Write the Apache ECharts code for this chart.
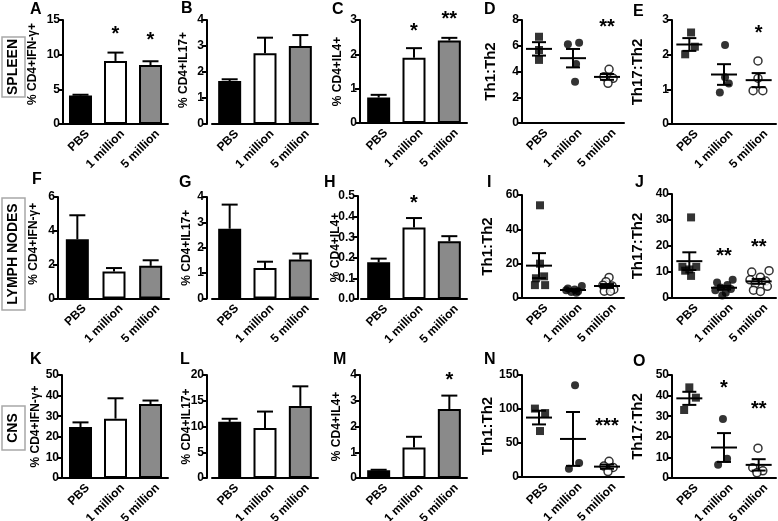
<!DOCTYPE html>
<html><head><meta charset="utf-8">
<script src="https://cdn.jsdelivr.net/npm/echarts@6/dist/echarts.min.js"></script>
<style>html,body{margin:0;padding:0;background:#fff}#c{width:778px;height:521px}</style>
</head><body><div id="c"></div>
<script>
const categories = ['PBS', '1 million', '5 million'];

// ---- tick values per panel ----
const ticksA = [0, 5, 10, 15], ticksB = [0, 1, 2, 3, 4], ticksC = [0, 1, 2, 3], ticksD = [0, 2, 4, 6, 8], ticksE = [0, 1, 2, 3];
const ticksF = [0, 2, 4, 6], ticksG = [0, 1, 2, 3, 4], ticksH = [0, 0.1, 0.2, 0.3, 0.4, 0.5], ticksI = [0, 20, 40, 60], ticksJ = [0, 10, 20, 30, 40];
const ticksK = [0, 10, 20, 30, 40, 50], ticksL = [0, 5, 10, 15, 20], ticksM = [0, 1, 2, 3, 4], ticksN = [0, 50, 100, 150], ticksO = [0, 10, 20, 30, 40, 50];

// ---- bar panels: means and upper errors ----
const meanA = [4.1, 9.1, 8.5],    errA = [0.12, 1.2, 0.55];
const meanB = [1.65, 2.72, 3.0],  errB = [0.07, 0.6, 0.42];
const meanC = [0.74, 1.9, 2.4],   errC = [0.08, 0.28, 0.08];
const meanF = [3.5, 1.6, 1.93],   errF = [1.42, 0.2, 0.33];
const meanG = [2.75, 1.2, 1.54],  errG = [0.95, 0.25, 0.23];
const meanH = [0.178, 0.347, 0.28], errH = [0.018, 0.046, 0.025];
const meanK = [24.7, 28.8, 35.9], errK = [2.3, 9.9, 1.7];
const meanL = [10.9, 9.7, 14.0],  errL = [0.6, 3.2, 3.8];
const meanM = [0.3, 1.18, 2.68],  errM = [0.02, 0.42, 0.52];

// ---- scatter panels: individual points per group, and horizontal jitter (category units) ----
const ptsD = [[6.7, 5.67, 4.9], [6.11, 6.24, 4.58, 3.21], [4.17, 3.6, 3.47, 3.08]];
const jitD = [[0, 0, 0], [-0.15, 0.18, 0.09, 0.06], [0.06, -0.09, 0.18, 0.03]];
const ptsE = [[2.64, 2.23, 2.01], [2.28, 1.35, 1.17, 0.91], [1.82, 1.32, 0.96, 0.96]];
const jitE = [[0.05, 0.16, -0.12], [0.03, 0.03, 0.14, -0.12], [-0.02, -0.02, -0.16, 0.12]];
const ptsI = [[54, 20, 12.6, 11.5, 7.5, 7.5], [7, 5.5, 5, 4.5, 4, 3.5, 3], [12, 9.5, 7.5, 7, 5, 4, 4]];
const jitI = [[0.03, 0.03, 0.15, -0.09, -0.12, 0.18], [0.26, -0.15, 0.05, -0.2, 0.15, -0.05, 0.1], [0.06, -0.03, -0.12, 0.15, 0.2, -0.08, 0.1]];
const ptsJ = [[31, 12, 12, 11, 10.5, 8.5], [7, 6, 5, 4, 3.5, 3, 2, 1], [10.5, 10, 8, 7, 6.5, 5.5, 4.5, 3, 2.5]];
const jitJ = [[0.05, -0.2, 0.2, 0, -0.12, 0.05], [0.25, -0.2, 0.1, -0.1, 0.2, -0.25, 0.05, -0.05], [0.3, -0.2, 0.05, -0.25, 0.2, -0.1, 0.25, -0.15, 0.05]];
const ptsN = [[100.6, 94, 67.6], [135, 12.3, 20.6], [23, 16, 14, 8]];
const jitN = [[-0.12, 0.18, 0.03], [0.06, -0.12, 0.18], [0.06, -0.09, 0.18, 0.03]];
const ptsO = [[44, 39, 33], [28.7, 9.3, 6.4], [14.5, 5, 3.5, 2.5]];
const jitO = [[0, 0.19, -0.15], [-0.03, 0.09, -0.17], [-0.02, -0.17, 0.12, -0.05]];

// ---- significance stars: [category index, value, text] ----
const starsA = [[1, 13.6, '*'], [2, 12.8, '*']];
const starsC = [[1, 2.8, '*'], [2, 3.15, '**']];
const starsD = [[2, 7.8, '**']];
const starsE = [[2, 2.76, '*']];
const starsH = [[1, 0.49, '*']];
const starsJ = [[1, 17.9, '**'], [2, 21.5, '**']];
const starsM = [[2, 4.0, '*']];
const starsN = [[2, 81, '***']];
const starsO = [[1, 46, '*'], [2, 35.5, '**']];

const yIFN = '% CD4+IFN-\u03b3+', yIL17 = '% CD4+IL17+', yIL4 = '% CD4+IL4+', yTh1 = 'Th1:Th2', yTh17 = 'Th17:Th2';

// ---- layout (pixels) ----
const layout = {
  A: {left: 63, axis: 63, width: 105, top: 20, zero: 124, gap: 24, lx: 30, ly: 2, up: 8},
  B: {left: 212, axis: 207, width: 106, top: 20, zero: 124, gap: 17, lx: 181, ly: 1, up: 2},
  C: {left: 361, axis: 360, width: 106, top: 20, zero: 123, gap: 16, lx: 332, ly: 2, up: 0},
  D: {left: 522, axis: 522, width: 102, top: 20, zero: 123, gap: 24, lx: 484, ly: 2, up: 0},
  E: {left: 672, axis: 672, width: 104, top: 20, zero: 124, gap: 27, lx: 633, ly: 4, up: 0},
  F: {left: 59, axis: 58, width: 110, top: 197, zero: 298.5, gap: 18, lx: 32, ly: 172, up: 4},
  G: {left: 212, axis: 207, width: 106, top: 197, zero: 298.5, gap: 14, lx: 179, ly: 175, up: 0},
  H: {left: 361, axis: 358, width: 106, top: 196, zero: 299, gap: 16, lx: 324, ly: 175, up: 0},
  I: {left: 522, axis: 522, width: 102, top: 195, zero: 298, gap: 27, lx: 487, ly: 175, up: 0},
  J: {left: 672, axis: 672, width: 104, top: 194, zero: 298, gap: 27, lx: 635, ly: 175, up: 0},
  K: {left: 63, axis: 62, width: 105, top: 375, zero: 478, gap: 20, lx: 30, ly: 352, up: 0},
  L: {left: 212, axis: 207, width: 106, top: 375, zero: 478, gap: 14, lx: 180, ly: 352, up: 0},
  M: {left: 361, axis: 360, width: 106, top: 375, zero: 478, gap: 17, lx: 333, ly: 352, up: 0},
  N: {left: 522, axis: 522, width: 102, top: 375, zero: 477, gap: 27, lx: 484, ly: 352, up: 0},
  O: {left: 672, axis: 672, width: 104, top: 375, zero: 478, gap: 27, lx: 633, ly: 354, up: 0}
};

const panels = [
  {id: 'A', kind: 'bar', mean: meanA, err: errA, ticks: ticksA, stars: starsA, yName: yIFN},
  {id: 'B', kind: 'bar', mean: meanB, err: errB, ticks: ticksB, stars: [], yName: yIL17},
  {id: 'C', kind: 'bar', mean: meanC, err: errC, ticks: ticksC, stars: starsC, yName: yIL4},
  {id: 'D', kind: 'dot', pts: ptsD, jit: jitD, ticks: ticksD, stars: starsD, yName: yTh1},
  {id: 'E', kind: 'dot', pts: ptsE, jit: jitE, ticks: ticksE, stars: starsE, yName: yTh17},
  {id: 'F', kind: 'bar', mean: meanF, err: errF, ticks: ticksF, stars: [], yName: yIFN},
  {id: 'G', kind: 'bar', mean: meanG, err: errG, ticks: ticksG, stars: [], yName: yIL17},
  {id: 'H', kind: 'bar', mean: meanH, err: errH, ticks: ticksH, stars: starsH, yName: yIL4, dec: 1},
  {id: 'I', kind: 'dot', pts: ptsI, jit: jitI, ticks: ticksI, stars: [], yName: yTh1},
  {id: 'J', kind: 'dot', pts: ptsJ, jit: jitJ, ticks: ticksJ, stars: starsJ, yName: yTh17},
  {id: 'K', kind: 'bar', mean: meanK, err: errK, ticks: ticksK, stars: [], yName: yIFN},
  {id: 'L', kind: 'bar', mean: meanL, err: errL, ticks: ticksL, stars: [], yName: yIL17},
  {id: 'M', kind: 'bar', mean: meanM, err: errM, ticks: ticksM, stars: starsM, yName: yIL4},
  {id: 'N', kind: 'dot', pts: ptsN, jit: jitN, ticks: ticksN, stars: starsN, yName: yTh1},
  {id: 'O', kind: 'dot', pts: ptsO, jit: jitO, ticks: ticksO, stars: starsO, yName: yTh17}
];

const FONT = 'Arial, "Liberation Sans", Helvetica, sans-serif';
const BAR_FILL = ['#000000', '#ffffff', '#8a8a8a'];
const AX = {color: '#000', width: 2};

function meanOf(a) { return a.reduce((s, v) => s + v, 0) / a.length; }
function semOf(a) {
  const m = meanOf(a);
  const ss = a.reduce((s, v) => s + (v - m) * (v - m), 0);
  return Math.sqrt(ss / (a.length - 1)) / Math.sqrt(a.length);
}

const grid = [], xAxis = [], yAxis = [], series = [], graphic = [];

panels.forEach((p, gi) => {
  const L = layout[p.id];
  grid.push({left: L.left, top: L.top, width: L.width, height: L.zero - L.top, containLabel: false, outerBoundsMode: 'none'});
  const catIdx = xAxis.length;
  xAxis.push({
    type: 'category', gridIndex: gi, data: categories, position: 'bottom',
    axisLine: {onZero: false, lineStyle: AX},
    axisTick: {alignWithLabel: true, length: 4, lineStyle: AX},
    axisLabel: {interval: 0, rotate: 45, margin: 1, verticalAlign: 'top', lineHeight: 20,
      color: '#000', fontSize: 12, fontWeight: 'bold', fontFamily: FONT},
    splitLine: {show: false}
  });
  const tk = p.ticks;
  yAxis.push({
    type: 'value', gridIndex: gi, min: tk[0], max: tk[tk.length - 1], interval: tk[1] - tk[0],
    position: 'left', offset: L.left - L.axis,
    axisLine: {show: true, onZero: false, lineStyle: AX},
    axisTick: {show: true, length: 5, lineStyle: AX},
    axisLabel: {margin: 3, color: '#000', fontSize: 12, fontWeight: 'bold', fontFamily: FONT,
      formatter: p.dec ? (v => v.toFixed(p.dec)) : (v => String(v))},
    splitLine: {show: false},
    name: p.yName, nameLocation: 'middle', nameGap: L.gap, nameMoveOverlap: false,
    nameTextStyle: {color: '#000', fontWeight: 'bold', fontFamily: FONT, fontSize: p.kind === 'dot' ? 15 : 12,
      padding: [0, 0, 0, 2 * L.up]}
  });

  if (p.kind === 'bar') {
    series.push({
      type: 'bar', xAxisIndex: catIdx, yAxisIndex: gi, barWidth: 23, silent: true, animation: false,
      itemStyle: {borderColor: '#000', borderWidth: 2},
      data: p.mean.map((v, j) => ({value: v, itemStyle: {color: BAR_FILL[j]}}))
    });
    series.push({
      type: 'custom', xAxisIndex: catIdx, yAxisIndex: gi, silent: true, animation: false, z: 3,
      data: p.mean.map((v, j) => [j, v, p.err[j]]),
      renderItem: (params, api) => {
        const c = api.value(0), m = api.value(1), e = api.value(2);
        const a = api.coord([c, m]), b = api.coord([c, m + e]);
        const st = {stroke: '#000', lineWidth: 2};
        return {type: 'group', children: [
          {type: 'line', shape: {x1: a[0], y1: a[1], x2: b[0], y2: b[1]}, style: st},
          {type: 'line', shape: {x1: b[0] - 8, y1: b[1], x2: b[0] + 8, y2: b[1]}, style: st}
        ]};
      }
    });
  } else {
    const valIdx = xAxis.length;
    xAxis.push({type: 'value', gridIndex: gi, min: -0.5, max: 2.5, show: false, position: 'top',
      axisLine: {onZero: false}, splitLine: {show: false}});
    p.pts.forEach((grp, j) => {
      series.push({
        type: 'scatter', xAxisIndex: valIdx, yAxisIndex: gi, silent: true, animation: false, z: 2,
        symbol: j === 0 ? 'rect' : 'circle', symbolSize: 8,
        itemStyle: j === 2 ? {color: '#fff', borderColor: '#000', borderWidth: 1.5} : {color: '#000'},
        data: grp.map((v, k) => [j + p.jit[j][k], v])
      });
    });
    series.push({
      type: 'custom', xAxisIndex: catIdx, yAxisIndex: gi, silent: true, animation: false, z: 4,
      data: p.pts.map((grp, j) => [j, meanOf(grp), semOf(grp)]),
      renderItem: (params, api) => {
        const c = api.value(0), m = api.value(1), s = api.value(2);
        const pm = api.coord([c, m]), pt = api.coord([c, m + s]), pb = api.coord([c, m - s]);
        const st = {stroke: '#000', lineWidth: 2};
        return {type: 'group', children: [
          {type: 'line', shape: {x1: pm[0] - 13, y1: pm[1], x2: pm[0] + 13, y2: pm[1]}, style: st},
          {type: 'line', shape: {x1: pt[0], y1: pt[1], x2: pb[0], y2: pb[1]}, style: st},
          {type: 'line', shape: {x1: pt[0] - 7, y1: pt[1], x2: pt[0] + 7, y2: pt[1]}, style: st},
          {type: 'line', shape: {x1: pb[0] - 7, y1: pb[1], x2: pb[0] + 7, y2: pb[1]}, style: st}
        ]};
      }
    });
  }

  if (p.stars.length) {
    const stars = p.stars;
    series.push({
      type: 'custom', xAxisIndex: catIdx, yAxisIndex: gi, silent: true, animation: false, z: 5,
      data: stars.map(s => [s[0], s[1]]),
      renderItem: (params, api) => {
        const pos = api.coord([api.value(0), api.value(1)]);
        const fs = 20;
        return {type: 'text', x: pos[0], y: pos[1] + fs * 0.25,
          style: {text: stars[params.dataIndex][2], fill: '#000', fontSize: fs, fontWeight: 'bold', fontFamily: FONT,
            align: 'center', verticalAlign: 'middle', textAlign: 'center', textVerticalAlign: 'middle'}};
      }
    });
  }

  graphic.push({type: 'text', left: L.lx, top: L.ly, silent: true,
    style: {text: p.id, fill: '#000', font: 'bold 16px ' + FONT}});
});

// row labels
const rowLabels = [['SPLEEN', 67, 60], ['LYMPH NODES', 254, 112], ['CNS', 428, 44]];
rowLabels.forEach(([t, cy, h]) => {
  graphic.push({type: 'group', x: 13.5, y: cy, rotation: Math.PI / 2, silent: true, children: [
    {type: 'rect', shape: {x: -h / 2, y: -11.5, width: h, height: 23}, style: {fill: '#fff', stroke: '#a8a8a8', lineWidth: 1.5}},
    {type: 'text', x: 0, y: 0, style: {text: t, fill: '#000', font: 'bold 14px ' + FONT, align: 'center', verticalAlign: 'middle'}}
  ]});
});

const chart = echarts.init(document.getElementById('c'), null, {renderer: 'canvas'});
chart.setOption({animation: false, backgroundColor: '#fff', grid, xAxis, yAxis, series, graphic});
</script></body></html>
